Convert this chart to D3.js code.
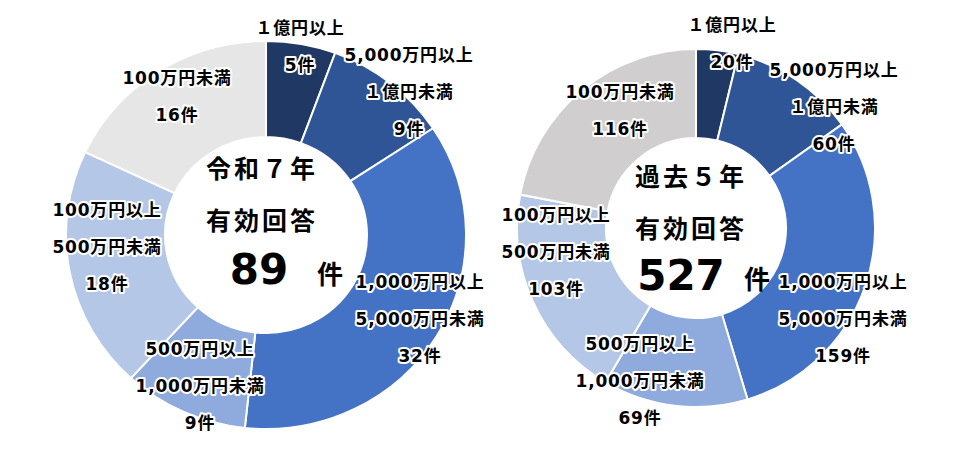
<!DOCTYPE html>
<html>
<head>
<meta charset="utf-8">
<script src="https://cdn.jsdelivr.net/npm/d3@7"></script>
<style>
  html, body { margin: 0; padding: 0; background: #fff; }
  svg text { font-family: "DejaVu Sans", "Noto Sans CJK JP", sans-serif; font-weight: 700; }
</style>
</head>
<body>
<svg id="chart" width="960" height="464"></svg>
<script>
// --- Data ---
const categories = [
  ['１億円以上'],
  ['5,000万円以上', '１億円未満'],
  ['1,000万円以上', '5,000万円未満'],
  ['500万円以上', '1,000万円未満'],
  ['100万円以上', '500万円未満'],
  ['100万円未満']
];
const countsR7 = [5, 9, 32, 9, 18, 16];
const counts5y = [20, 60, 159, 69, 103, 116];

const colorsR7 = ['#203864', '#2F5597', '#4472C4', '#8FAADC', '#B4C7E7', '#E7E6E6'];
const colors5y = ['#203864', '#2F5597', '#4472C4', '#8FAADC', '#B4C7E7', '#D0CECE'];

// label block positions (first line), relative to donut centre
const labelPosR7 = [[34, -207], [143, -180], [154, 47], [-66, 114], [-159, -25], [-89, -157]];
const labelPos5y = [[36, -203], [138, -158], [147, 54], [-56, 116], [-140, -13], [-76, -136]];

const svg = d3.select('#chart');

function drawDonut(opts) {
  const g = svg.append('g')
    .attr('transform', `translate(${opts.cx},${opts.cy})`);

  const pie = d3.pie().sort(null).value(d => d);
  const arc = d3.arc().innerRadius(opts.inner).outerRadius(opts.outer);

  g.append('g')
    .attr('transform', `scale(1,${opts.sy})`)
    .selectAll('path')
    .data(pie(opts.values))
    .join('path')
    .attr('d', arc)
    .attr('fill', (d, i) => opts.colors[i])
    .attr('stroke', '#fff')
    .attr('stroke-width', 2);

  // Data labels
  const lineGap = 37;
  const labels = g.selectAll('g.lbl')
    .data(opts.values)
    .join('g')
    .attr('class', 'lbl')
    .attr('transform', (d, i) => `translate(${opts.labelPos[i][0]},${opts.labelPos[i][1]})`);

  labels.each(function(v, i) {
    const lines = categories[i].concat([`${v}件`]);
    d3.select(this).selectAll('text')
      .data(lines)
      .join('text')
      .attr('y', (t, j) => j * lineGap)
      .attr('text-anchor', 'middle')
      .attr('dominant-baseline', 'central')
      .attr('font-size', 17)
      .attr('letter-spacing', 0.8)
      .attr('fill', '#000')
      .attr('stroke', '#fff')
      .attr('stroke-width', 4)
      .attr('stroke-linejoin', 'round')
      .attr('paint-order', 'stroke')
      .text(t => t);
  });

  // Centre text
  const c = g.append('g');
  c.append('text')
    .attr('x', opts.titleX).attr('y', opts.titleY)
    .attr('text-anchor', 'middle').attr('dominant-baseline', 'central')
    .attr('font-size', 25).attr('letter-spacing', 3)
    .text(opts.title);
  c.append('text')
    .attr('x', opts.titleX).attr('y', opts.titleY + 52)
    .attr('text-anchor', 'middle').attr('dominant-baseline', 'central')
    .attr('font-size', 25).attr('letter-spacing', 3)
    .text('有効回答');
  c.append('text')
    .attr('x', opts.totalX).attr('y', opts.totalY)
    .attr('text-anchor', 'middle').attr('dominant-baseline', 'central')
    .attr('font-size', 42)
    .text(d3.sum(opts.values));
  c.append('text')
    .attr('x', opts.unitX).attr('y', opts.unitY)
    .attr('text-anchor', 'middle').attr('dominant-baseline', 'central')
    .attr('font-size', 26)
    .text('件');
}

drawDonut({
  cx: 266, cy: 235, outer: 200, inner: 101, sy: 0.97,
  values: countsR7, colors: colorsR7, labelPos: labelPosR7,
  title: '令和７年', titleX: -4, titleY: -66,
  totalX: -7, totalY: 34, unitX: 64, unitY: 40
});

drawDonut({
  cx: 696, cy: 228, outer: 179, inner: 90, sy: 1,
  values: counts5y, colors: colors5y, labelPos: labelPos5y,
  title: '過去５年', titleX: -5, titleY: -51,
  totalX: -15, totalY: 47, unitX: 61, unitY: 52
});
</script>
</body>
</html>
